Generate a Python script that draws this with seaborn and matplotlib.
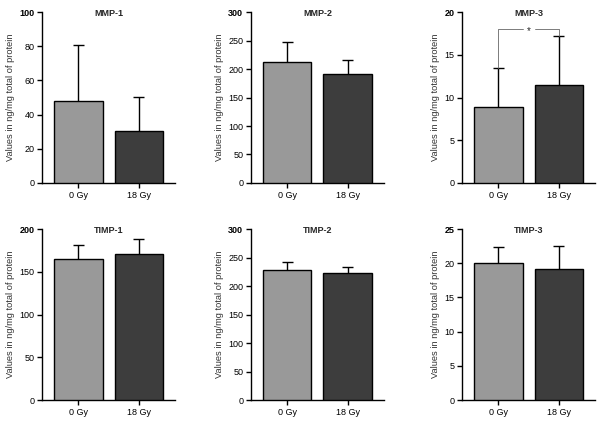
import numpy as np
import pandas as pd
import matplotlib
matplotlib.use("Agg")
import matplotlib.pyplot as plt
import seaborn as sns

# ==========================================
# data
# ==========================================
groups = ["0 Gy", "18 Gy"]
titles = ["MMP-1", "MMP-2", "MMP-3", "TIMP-1", "TIMP-2", "TIMP-3"]
means = [
    [48.0, 30.2],
    [213.0, 191.0],
    [8.9, 11.5],
    [165.0, 171.0],
    [228.0, 223.0],
    [20.0, 19.1],
]
errs = [
    [33.0, 20.0],
    [34.0, 24.0],
    [4.5, 5.7],
    [16.0, 18.0],
    [14.0, 11.0],
    [2.4, 3.5],
]
ymax = [100, 300, 20, 200, 300, 25]
ystep = [20, 50, 5, 50, 50, 5]

colors = ["#999999", "#3d3d3d"]

sns.set_theme(style="ticks")
plt.rcParams['font.family'] = ['Liberation Sans', 'DejaVu Sans']

fig = plt.figure(figsize=(6.0, 4.22), dpi=100)

lefts = [0.070, 0.418, 0.770]
bottoms = [0.5664, 0.0521]
w, h = 0.222, 0.405

for i, title in enumerate(titles):
    r, c = divmod(i, 3)
    ax = fig.add_axes([lefts[c], bottoms[r], w, h])
    df = pd.DataFrame({"group": groups, "value": means[i]})
    sns.barplot(data=df, x="group", y="value", hue="group",
                palette=colors, legend=False, width=0.8,
                edgecolor="black", linewidth=1.0, ax=ax, zorder=3)

    # upper-only error bars with a cap
    xs = np.arange(len(groups))
    tops = np.array(means[i]) + np.array(errs[i])
    ax.vlines(xs, means[i], tops, color="black", lw=1.0, zorder=2)
    ax.hlines(tops, xs - 0.09, xs + 0.09, color="black", lw=1.0, zorder=2)

    ax.set_xlim(-0.6, 1.6)
    ax.set_ylim(0, ymax[i])
    ticks = np.arange(0, ymax[i] + ystep[i] / 2, ystep[i])
    ax.set_yticks(ticks)
    ax.set_yticklabels([f"{t:g}" for t in ticks], fontsize=6.5)
    ax.get_yticklabels()[-1].set_fontweight("bold")
    ax.set_xticks([0, 1])
    ax.set_xticklabels(groups, fontsize=6.5)
    ax.set_xlabel("")
    ax.set_ylabel("Values in ng/mg total of protein", fontsize=6.7,
                  color="#333333", labelpad=3)
    ax.tick_params(axis="both", direction="out", length=3.5, width=1,
                   pad=2, colors="black")
    for s in ["left", "bottom"]:
        ax.spines[s].set_linewidth(1.0)
        ax.spines[s].set_color("black")
    sns.despine(ax=ax)
    ax.text(0.5, ymax[i] * 0.99, title, ha="center", va="center",
            fontsize=6.5, fontweight="bold")

    # significance bracket for MMP-3
    if title == "MMP-3":
        yb = 18.0
        lc = "#666666"
        ax.plot([0, 0, 0.41], [tops[0], yb, yb], color=lc, lw=0.6)
        ax.plot([0.61, 1, 1], [yb, yb, tops[1]], color=lc, lw=0.6)
        ax.text(0.51, yb - 0.25, "*", ha="center", va="center",
                fontsize=7)

fig.savefig("out.png", dpi=100)
